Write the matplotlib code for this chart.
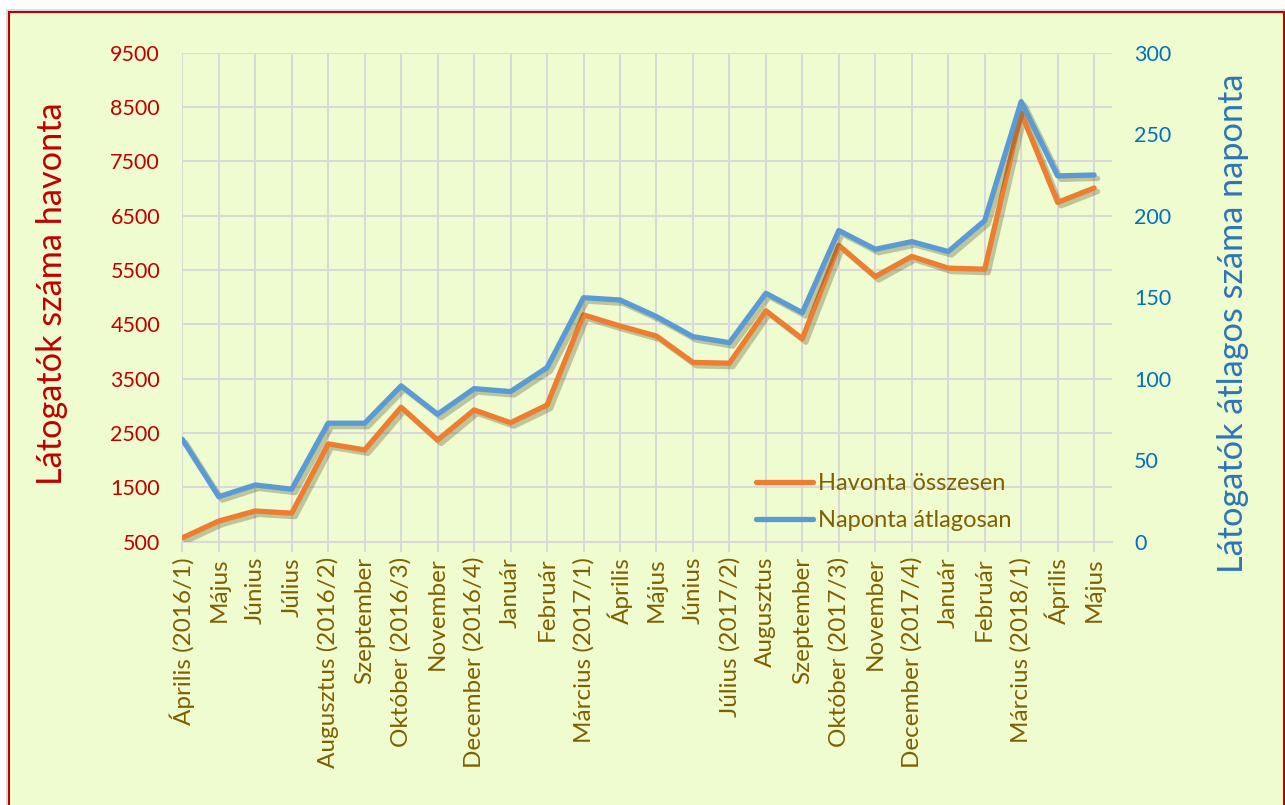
import matplotlib
matplotlib.use("Agg")
import matplotlib.pyplot as plt
import matplotlib.patheffects as pe
from matplotlib.patches import Rectangle

categories = ["Április (2016/1)", "Május", "Június", "Július", "Augusztus (2016/2)",
              "Szeptember", "Október (2016/3)", "November", "December (2016/4)", "Január",
              "Február", "Március (2017/1)", "Április", "Május", "Június",
              "Július (2017/2)", "Augusztus", "Szeptember", "Október (2017/3)", "November",
              "December (2017/4)", "Január", "Február", "Március (2018/1)", "Április", "Május"]
havonta = [570, 880, 1065, 1025, 2300, 2190, 2975, 2370, 2925, 2690,
           3015, 4675, 4470, 4285, 3800, 3785, 4750, 4235, 5955, 5380,
           5750, 5535, 5515, 8390, 6745, 7010]
naponta = [62.8, 27.6, 34.8, 32.2, 72.7, 72.7, 95.6, 78.2, 93.9, 92.1,
           106.8, 149.7, 148.3, 138.1, 125.8, 122.1, 152.4, 140.5, 190.9, 179.4,
           184.1, 178.0, 197.0, 270.0, 224.4, 225.0]
left_ticks = [500, 1500, 2500, 3500, 4500, 5500, 6500, 7500, 8500, 9500]
right_ticks = [0, 50, 100, 150, 200, 250, 300]

BG = "#effccf"
RED = "#c00000"
BLUE_T = "#0070c0"
BLUE_L = "#2e75b6"
BROWN = "#7f6000"
ORANGE = "#ed7d31"
BLUE = "#5b9bd5"
GRID = "#d9d9d9"

plt.rcParams['font.family'] = ['Lato', 'DejaVu Sans']

W, H = 1285, 805
fig = plt.figure(figsize=(W / 100, H / 100), dpi=100)
fig.patch.set_facecolor("white")

# frame with shadow
fig.patches.append(Rectangle((6 / W, -0.02), (W - 4) / W, 1 - 9 / H + 0.02,
                             transform=fig.transFigure, facecolor="#bfbfbf",
                             edgecolor="none", alpha=0.5, zorder=-3))
fig.patches.append(Rectangle((9 / W, -0.02), (W - 10) / W, 1 - 12 / H + 0.02,
                             transform=fig.transFigure, facecolor=BG,
                             edgecolor=RED, linewidth=1.5, zorder=-2))

left, right = 182.3 / W, 1112 / W
bottom, top = 1 - 541.7 / H, 1 - 52.7 / H
ax = fig.add_axes([left, bottom, right - left, top - bottom])
ax.set_facecolor("none")
ax2 = ax.twinx()
ax2.set_facecolor("none")

x = list(range(len(categories)))
shadow = [pe.SimpleLineShadow(offset=(2.5, -2.5), shadow_color="#4a4a20", alpha=0.3),
          pe.Normal()]

l1, = ax.plot(x, havonta, color=ORANGE, lw=3.8, solid_joinstyle="round",
              solid_capstyle="round", path_effects=shadow, zorder=3)
l2, = ax2.plot(x, naponta, color=BLUE, lw=3.8, solid_joinstyle="round",
               solid_capstyle="round", path_effects=shadow, zorder=3)

ax.set_xlim(0, 25.49)
ax.set_ylim(500, 9500)
ax2.set_ylim(0, 300)
ax.set_yticks(left_ticks)
ax2.set_yticks(right_ticks)
ax.set_xticks(x)
ax.set_xticklabels(categories, rotation=90, color=BROWN, fontsize=17.5)

ax.grid(True, color=GRID, lw=1.5, zorder=0)
ax.set_axisbelow(True)
for s in ["top", "right", "left"]:
    ax.spines[s].set_visible(False)
    ax2.spines[s].set_visible(False)
ax2.spines["bottom"].set_visible(False)
ax.spines["bottom"].set_color(GRID)
ax.spines["bottom"].set_linewidth(1.5)

ax.tick_params(axis="y", length=0, labelcolor=RED, labelsize=15.5, pad=16)
ax2.tick_params(axis="y", length=0, labelcolor=BLUE_T, labelsize=15.5, pad=16)
ax.tick_params(axis="x", length=7, width=1.5, color=GRID, pad=4)

ax.set_ylabel("Látogatók száma havonta", color=RED, fontsize=24.7)
ax.yaxis.set_label_coords(52 / W, 1 - 294 / H, transform=fig.transFigure)
ax2.set_ylabel("Látogatók átlagos száma naponta", color=BLUE_L, fontsize=24.7,
               rotation=90)
ax2.yaxis.set_label_coords(1233 / W, 1 - 323 / H, transform=fig.transFigure)
ax.yaxis.label.set_va("center")
ax2.yaxis.label.set_va("center")

leg = ax2.legend([l1, l2], ["Havonta összesen", "Naponta átlagosan"],
                 loc="center left", bbox_to_anchor=(756 / W, 1 - 502 / H),
                 bbox_transform=fig.transFigure, frameon=False, fontsize=17,
                 handlelength=2.4, handletextpad=0.22, labelspacing=0.68,
                 borderpad=0, borderaxespad=0)
for t in leg.get_texts():
    t.set_color(BROWN)
for h in leg.legend_handles:
    h.set_path_effects([])

fig.savefig("out.png", dpi=100, facecolor=fig.get_facecolor())
